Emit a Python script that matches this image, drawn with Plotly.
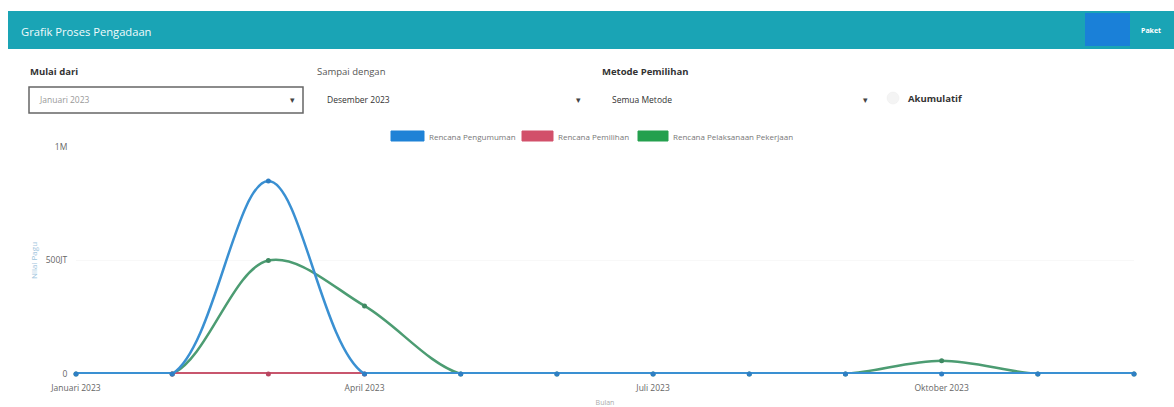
import plotly.graph_objects as go

# ---- data ----
months = ["Januari 2023", "Februari 2023", "Maret 2023", "April 2023", "Mei 2023", "Juni 2023",
          "Juli 2023", "Agustus 2023", "September 2023", "Oktober 2023", "November 2023", "Desember 2023"]
pengumuman = [0, 0, 850e6, 0, 0, 0, 0, 0, 0, 0, 0, 0]
pemilihan = [None, 0, 0, 0, None, None, None, None, None, None, None, None]
pelaksanaan = [0, 0, 500e6, 300e6, 0, 0, 0, 0, 0, 58e6, 0, 0]
x_tickvals = ["Januari 2023", "April 2023", "Juli 2023", "Oktober 2023"]
y_tickvals = [0, 500e6, 1e9]
y_ticktext = ["0", "500JT", "1M"]
y_max = 1e9

W, H = 1174, 407
L, R, T, B = 76, 1134, 147, 374   # B = pixel row of value 0 (bottom of plot area)

def px(x):
    return (x - L) / (R - L)

def py(y):
    return (B - y) / (B - T)


def flat_runs(xs, ys):
    """Consecutive zero-valued pairs of a series, joined by None gaps."""
    sx, sy = [], []
    for k in range(len(ys) - 1):
        if ys[k] == 0 and ys[k + 1] == 0:
            if sx and sx[-1] != xs[k]:
                sx.append(None)
                sy.append(None)
            if not sx or sx[-1] != xs[k]:
                sx.append(xs[k])
                sy.append(ys[k])
            sx.append(xs[k + 1])
            sy.append(ys[k + 1])
    return sx, sy


C_BLUE = "#3a90d2"
C_RED = "#c8566d"
C_GREEN = "#4c9c72"
FONT = "Open Sans, Noto Sans, sans-serif"

fig = go.Figure()
for name, ys, col, mcol in [("Rencana Pelaksanaan Pekerjaan", pelaksanaan, C_GREEN, "#3f8a63"),
                            ("Rencana Pemilihan", pemilihan, C_RED, "#b84560"),
                            ("Rencana Pengumuman", pengumuman, C_BLUE, "#2f7fc4")]:
    # smooth curve (the part below zero is clipped by the plot area, like a capped bezier)
    fig.add_trace(go.Scatter(x=months, y=ys, name=name, mode="lines", connectgaps=False,
                             line=dict(color=col, width=2.5, shape="spline", smoothing=1.0)))
    # flat zero stretches drawn thicker, since half of them is clipped at the axis
    fx, fy = flat_runs(months, ys)
    fig.add_trace(go.Scatter(x=fx, y=fy, name=name, mode="lines", showlegend=False, connectgaps=False,
                             line=dict(color=col, width=4)))
    fig.add_trace(go.Scatter(x=months, y=ys, name=name, mode="markers", showlegend=False,
                             marker=dict(size=5, color=mcol), cliponaxis=False))

shapes = []
annotations = []

# header bar
shapes.append(dict(type="rect", xref="paper", yref="paper", x0=px(8), x1=px(1174), y0=py(49), y1=py(11),
                   fillcolor="#1aa4b5", line=dict(width=0), layer="below"))
shapes.append(dict(type="rect", xref="paper", yref="paper", x0=px(1085), x1=px(1130), y0=py(46), y1=py(13),
                   fillcolor="#1a80d8", line=dict(width=0), layer="below"))
annotations.append(dict(text="Grafik Proses Pengadaan", xref="paper", yref="paper", x=px(19), y=py(31),
                        xanchor="left", yanchor="middle", showarrow=False,
                        font=dict(family=FONT, size=11.2, color="#f2fbfc")))
annotations.append(dict(text="<b>Paket</b>", xref="paper", yref="paper", x=px(1151), y=py(30),
                        xanchor="center", yanchor="middle", showarrow=False,
                        font=dict(family=FONT, size=7, color="white")))

# filter labels
for txt, x in [("<b>Mulai dari</b>", 28), ("Sampai dengan", 315), ("<b>Metode Pemilihan</b>", 600)]:
    annotations.append(dict(text=txt, xref="paper", yref="paper", x=px(x), y=py(71),
                            xanchor="left", yanchor="middle", showarrow=False,
                            font=dict(family=FONT, size=9.5, color="#333" if "<b>" in txt else "#555")))

# dropdown 1 box
shapes.append(dict(type="rect", xref="paper", yref="paper", x0=px(29), x1=px(303), y0=py(113), y1=py(87),
                   fillcolor="white", line=dict(width=1.5, color="#666"), layer="below"))
annotations.append(dict(text="Januari 2023", xref="paper", yref="paper", x=px(37), y=py(100),
                        xanchor="left", yanchor="middle", showarrow=False,
                        font=dict(family=FONT, size=8.5, color="#999")))
annotations.append(dict(text="Desember 2023", xref="paper", yref="paper", x=px(325), y=py(100),
                        xanchor="left", yanchor="middle", showarrow=False,
                        font=dict(family=FONT, size=8.5, color="#333")))
annotations.append(dict(text="Semua Metode", xref="paper", yref="paper", x=px(610), y=py(100),
                        xanchor="left", yanchor="middle", showarrow=False,
                        font=dict(family=FONT, size=8.5, color="#333")))
for ax in [292, 578, 865]:
    annotations.append(dict(text="▾", xref="paper", yref="paper", x=px(ax), y=py(100),
                            xanchor="center", yanchor="middle", showarrow=False,
                            font=dict(family=FONT, size=9, color="#444")))
shapes.append(dict(type="circle", xref="paper", yref="paper", x0=px(887), x1=px(899), y0=py(104), y1=py(92),
                   fillcolor="#f4f4f4", line=dict(width=0.5, color="#ececec"), layer="below"))
annotations.append(dict(text="<b>Akumulatif</b>", xref="paper", yref="paper", x=px(906), y=py(98),
                        xanchor="left", yanchor="middle", showarrow=False,
                        font=dict(family=FONT, size=9.5, color="#333")))

# custom legend
for x0, x1, col, txt in [(391, 424, "#1f82d6", "Rencana Pengumuman"),
                         (522, 553, "#d2506a", "Rencana Pemilihan"),
                         (638, 668, "#24a04e", "Rencana Pelaksanaan Pekerjaan")]:
    shapes.append(dict(type="rect", xref="paper", yref="paper", x0=px(x0), x1=px(x1), y0=py(141), y1=py(131),
                       fillcolor=col, line=dict(width=1, color=col)))
    annotations.append(dict(text=txt, xref="paper", yref="paper", x=px(x1 + 3), y=py(136),
                            xanchor="left", yanchor="middle", showarrow=False,
                            font=dict(family=FONT, size=8, color="#777")))

fig.update_layout(
    width=W, height=H,
    margin=dict(l=L, r=W - R, t=T, b=H - B, autoexpand=False),
    paper_bgcolor="white", plot_bgcolor="white",
    showlegend=False,
    shapes=shapes, annotations=annotations,
    font=dict(family=FONT, color="#666"),
    xaxis=dict(type="category", categoryorder="array", categoryarray=months, automargin=False,
               range=[0, len(months) - 1], tickvals=x_tickvals, ticktext=x_tickvals,
               showgrid=False, zeroline=False, showline=False,
               ticks="outside", ticklen=6, tickcolor="rgba(0,0,0,0)",
               tickfont=dict(size=8.5, color="#666"),
               title=dict(text="Bulan", font=dict(size=7, color="#aaa"), standoff=10)),
    yaxis=dict(range=[0, y_max], tickvals=y_tickvals, ticktext=y_ticktext, automargin=False,
               showgrid=True, gridcolor="#f8f8f8", zeroline=False, showline=False,
               ticks="outside", ticklen=6, tickcolor="rgba(0,0,0,0)",
               tickfont=dict(size=8.5, color="#666"),
               title=dict(text="Nilai Pagu", font=dict(size=8, color="#9cc3dc"), standoff=6)),
)

fig.write_html("out.html", config={"displayModeBar": False})
